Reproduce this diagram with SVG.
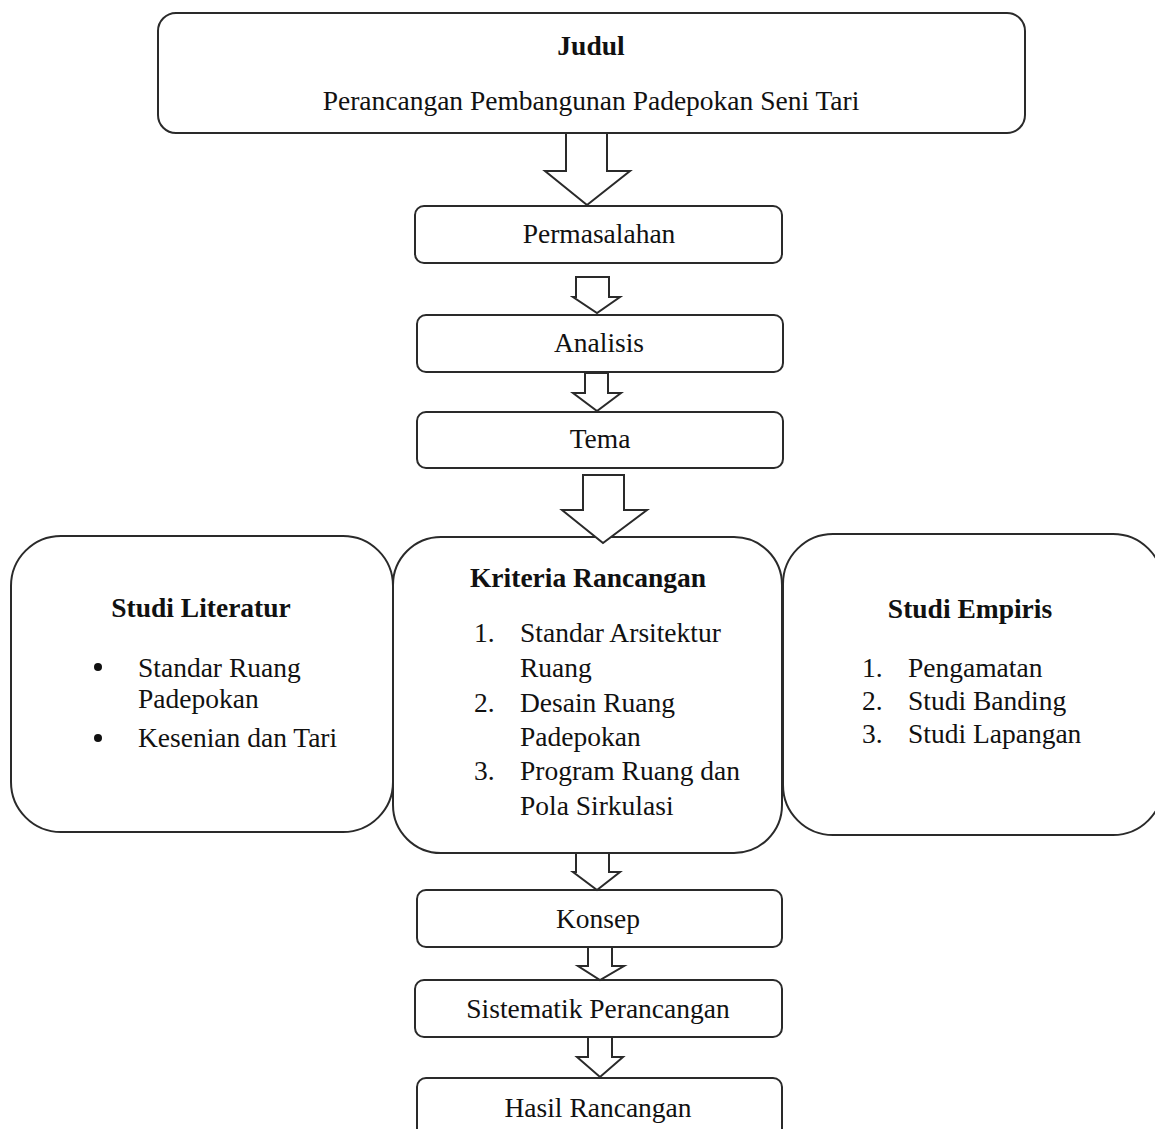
<svg xmlns="http://www.w3.org/2000/svg" width="1155" height="1129" viewBox="0 0 1155 1129">
<style>
.box{fill:#fff;stroke:#2a2a2a;stroke-width:2}
.arr{fill:#fff;stroke:#2a2a2a;stroke-width:2;stroke-linejoin:miter}
text{font-family:"Liberation Serif","Times New Roman",serif;font-size:27.5px;fill:#111}
.c{text-anchor:middle}
.b{font-weight:bold}
</style>
<rect width="1155" height="1129" fill="#fff"/>
<g id="judul">
<rect class="box" x="158" y="13" width="867" height="120" rx="18"/>
<text class="c b" x="591" y="55">Judul</text>
<text class="c" x="591" y="110">Perancangan Pembangunan Padepokan Seni Tari</text>
</g>
<g id="permasalahan">
<rect class="box" x="415" y="206" width="367" height="57" rx="9"/>
<text class="c" x="599" y="243">Permasalahan</text>
</g>
<g id="analisis">
<rect class="box" x="417" y="315" width="366" height="57" rx="9"/>
<text class="c" x="599" y="352">Analisis</text>
</g>
<g id="tema">
<rect class="box" x="417" y="412" width="366" height="56" rx="9"/>
<text class="c" x="600" y="448">Tema</text>
</g>
<g id="studi-literatur">
<rect class="box" x="11" y="536" width="382" height="296" rx="50"/>
<text class="c b" x="201" y="617">Studi Literatur</text>
<circle cx="98" cy="667" r="4" fill="#111"/>
<text x="138" y="677">Standar Ruang</text>
<text x="138" y="708">Padepokan</text>
<circle cx="98" cy="738" r="4" fill="#111"/>
<text x="138" y="747">Kesenian dan Tari</text>
</g>
<g id="studi-empiris">
<rect class="box" x="783" y="534" width="380" height="301" rx="50"/>
<text class="c b" x="970" y="618">Studi Empiris</text>
<text x="862" y="677">1.</text><text x="908" y="677">Pengamatan</text>
<text x="862" y="710">2.</text><text x="908" y="710">Studi Banding</text>
<text x="862" y="743">3.</text><text x="908" y="743">Studi Lapangan</text>
</g>
<g id="kriteria">
<rect class="box" x="393" y="537" width="389" height="316" rx="48"/>
<text class="c b" x="588" y="587">Kriteria Rancangan</text>
<text x="474" y="642">1.</text><text x="520" y="642">Standar Arsitektur</text>
<text x="520" y="677">Ruang</text>
<text x="474" y="712">2.</text><text x="520" y="712">Desain Ruang</text>
<text x="520" y="746">Padepokan</text>
<text x="474" y="780">3.</text><text x="520" y="780">Program Ruang dan</text>
<text x="520" y="815">Pola Sirkulasi</text>
</g>
<g id="konsep">
<rect class="box" x="417" y="890" width="365" height="57" rx="9"/>
<text class="c" x="598" y="928">Konsep</text>
</g>
<g id="sistematik">
<rect class="box" x="415" y="980" width="367" height="57" rx="9"/>
<text class="c" x="598" y="1018">Sistematik Perancangan</text>
</g>
<g id="hasil">
<rect class="box" x="417" y="1078" width="365" height="60" rx="9"/>
<text class="c" x="598" y="1117">Hasil Rancangan</text>
</g>
<g id="connectors">
<polygon class="arr" points="566,133 607,133 607,171 630,171 587,205 545,171 566,171"/>
<polygon class="arr" points="576,277 609,277 609,297 620,297 597,313 573,297 576,297"/>
<polygon class="arr" points="585,373 608,373 608,393 621,393 597,411 573,393 585,393"/>
<polygon class="arr" points="583,475 624,475 624,510 647,510 603,543 562,510 583,510"/>
<polygon class="arr" points="576,853 609,853 609,872 620,872 597,890 573,872 576,872"/>
<polygon class="arr" points="588,947 612,947 612,966 624,966 600,980 578,966 588,966"/>
<polygon class="arr" points="588,1037 612,1037 612,1057 623,1057 600,1077 577,1057 588,1057"/>
</g>
</svg>
